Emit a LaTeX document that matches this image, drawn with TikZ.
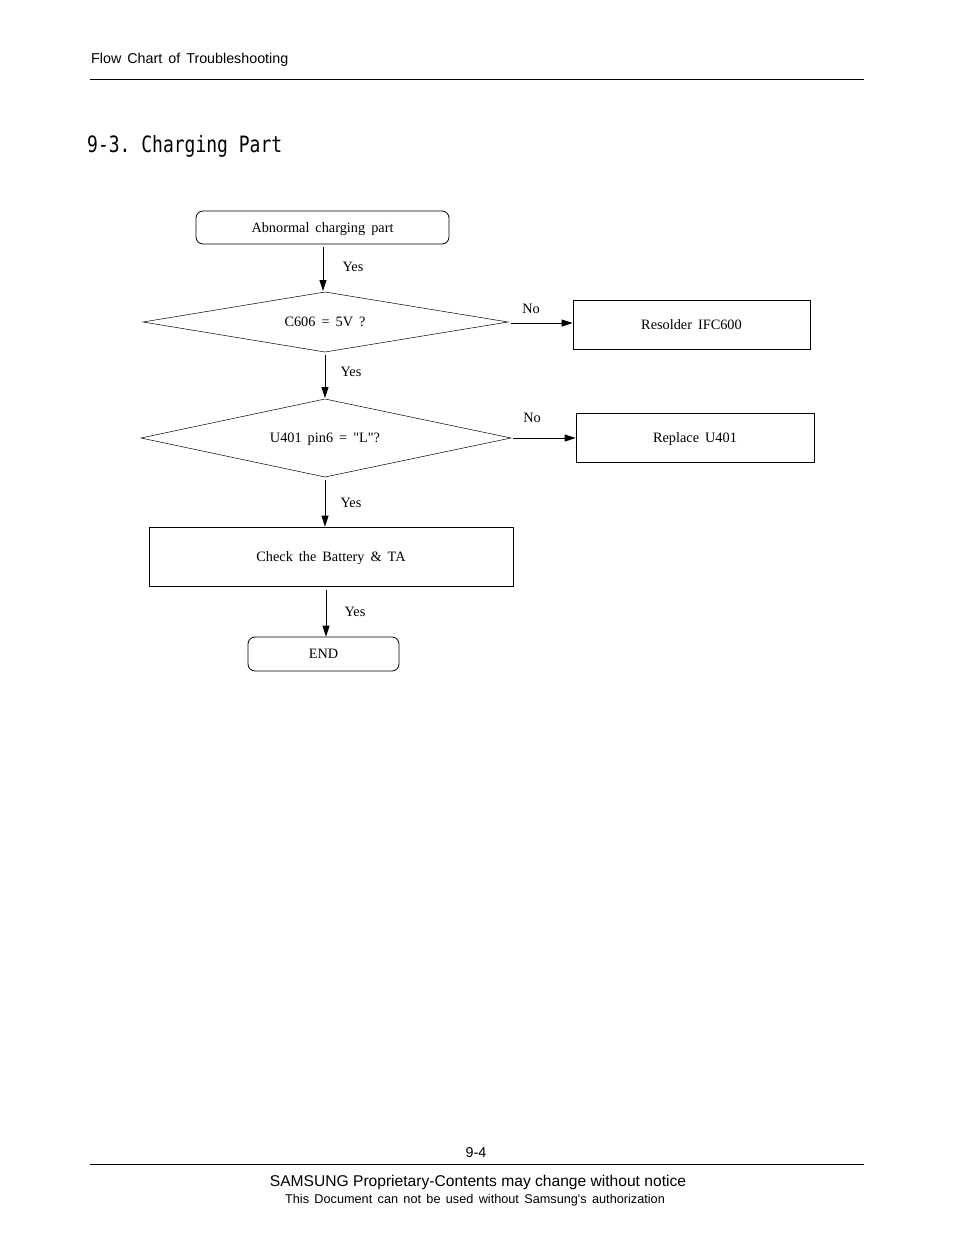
\documentclass[tikz,border=0pt]{standalone}
\usepackage{fontspec}
\setmainfont{Liberation Serif}
\newfontfamily\rawserif{Liberation Serif}[Ligatures=TeXOff]
\newfontfamily\arialf{Liberation Sans}
\newfontfamily\monof{DejaVu Sans Mono}
\usetikzlibrary{shapes.geometric,arrows.meta}
\newcommand\wsp{\spaceskip 0.42em\relax}
\newcommand\txtA{\fontsize{14.3}{16}\selectfont\wsp}
\newcommand\txtS{\arialf\fontsize{14.3}{16}\selectfont\wsp}
\newcommand\txtF{\arialf\fontsize{12.7}{14}\selectfont\wsp}
\newcommand\sq{{\rawserif"}}
\tikzset{
  box/.style={draw,line width=0.8pt,inner sep=0pt,font=\txtA,text height=9.4pt,text depth=0pt},
  rbox/.style={box,rounded corners=7pt},
  dia/.style={draw,line width=0.5pt},
  arr/.style={line width=0.9pt,-{Stealth[length=11pt,width=7pt,inset=0pt]}},
  lbl/.style={font=\txtA,inner sep=0pt,text height=9.4pt,text depth=0pt},
  sans/.style={font=\txtS,inner sep=0pt,text height=10.2pt,text depth=0pt},
}
\begin{document}
\begin{tikzpicture}[x=1pt,y=-1pt]
\useasboundingbox[fill=white] (0,0) rectangle (954,1235);
% header
\node[sans,anchor=west] (hdr) at (91,58) {Flow Chart of Troubleshooting};
\draw[line width=0.8pt] (90,79) -- (864,79);
\node[anchor=west,inner sep=0pt,font=\monof\fontsize{18}{20}\selectfont,yshift=-2pt] (title) at (87,144) {\scalebox{1.0}[1.25]{9-3.~Charging Part}};
% flowchart
\node[rbox,minimum width=253pt,minimum height=33pt] (start) at (322.5,227.5) {Abnormal charging part};
\draw[dia] (143,322) coordinate (d1l) -- (325,292) coordinate (d1t) -- (508,322) coordinate (d1r) -- (325,352) coordinate (d1b) -- cycle;
\node[lbl] (d1) at (325,322) {C606 = 5V ?};
\node[box,minimum width=237pt,minimum height=49pt] (resolder) at (691.5,324.5) {Resolder IFC600};
\draw[dia] (141,438) coordinate (d2l) -- (325,399) coordinate (d2t) -- (511,438) coordinate (d2r) -- (325,477) coordinate (d2b) -- cycle;
\node[lbl] (d2) at (325,438) {U401 pin6 = \sq L\sq?};
\node[box,minimum width=238pt,minimum height=49pt] (replace) at (695,437.5) {Replace U401};
\node[box,minimum width=364pt,minimum height=59pt] (check) at (331,556.5) {Check the Battery \& TA};
\node[rbox,minimum width=151pt,minimum height=34pt] (end) at (323.5,654) {END};
% connectors
\coordinate (a1s) at (323,247); \coordinate (a1e) at (323,291);
\draw[arr] (a1s) -- (a1e);
\node[lbl] (y1) at (353,267) {Yes};
\coordinate (n1s) at (511,323);
\draw[arr] (n1s) -- (resolder.west |- n1s);
\node[lbl] (no1) at (531,309) {No};
\coordinate (a2s) at (325,355); \coordinate (a2e) at (325,398);
\draw[arr] (a2s) -- (a2e);
\node[lbl] (y2) at (351,372) {Yes};
\coordinate (n2s) at (513,438);
\draw[arr] (n2s) -- (replace.west |- n2s);
\node[lbl] (no2) at (532,418) {No};
\coordinate (a3s) at (325,480);
\draw[arr] (a3s) -- (a3s |- check.north);
\node[lbl] (y3) at (351,503) {Yes};
\coordinate (a4s) at (326,590);
\draw[arr] (a4s) -- (a4s |- end.north);
\node[lbl] (y4) at (355,612) {Yes};
% footer
\node[sans] (pg) at (476,1152) {9-4};
\draw[line width=0.8pt] (90,1164) -- (864,1164);
\node[inner sep=0pt,font=\arialf\fontsize{15.6}{17}\selectfont,text height=11.2pt,text depth=0pt] (f1) at (478,1181) {SAMSUNG Proprietary-Contents may change without notice};
\node[inner sep=0pt,font=\txtF,text height=9.1pt,text depth=0pt] (f2) at (475,1199) {This Document can not be used without Samsung's authorization};
\end{tikzpicture}
\end{document}
